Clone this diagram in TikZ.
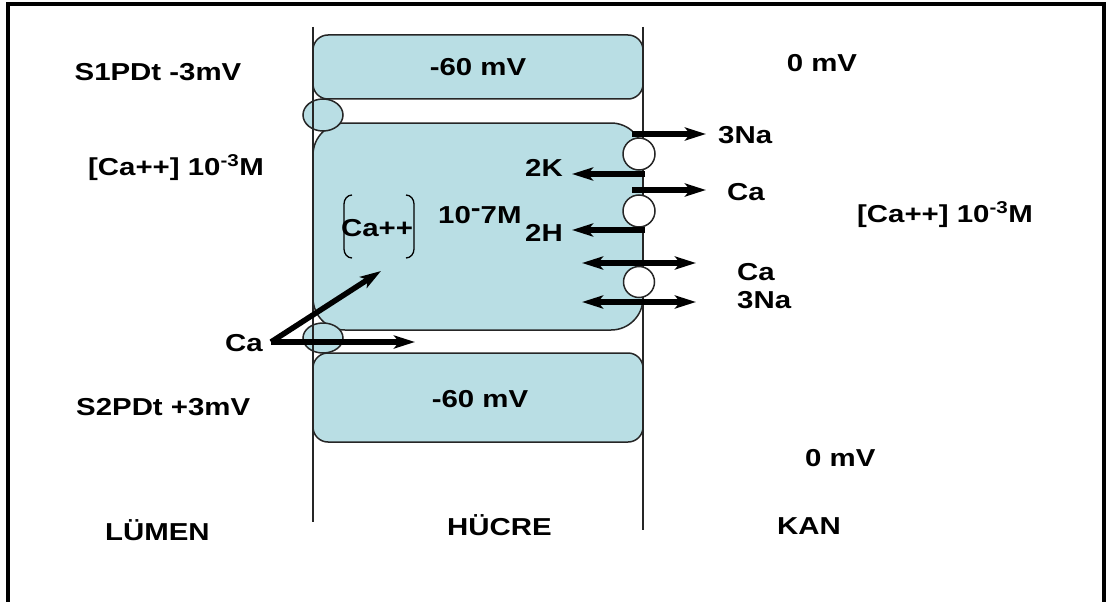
\documentclass[tikz,border=0pt]{standalone}
\usepackage{fontspec}
\setmainfont{Liberation Sans}[FakeStretch=1.2]
\usetikzlibrary{arrows.meta}
\definecolor{cellblue}{RGB}{185,222,228}
\begin{document}
\begin{tikzpicture}[x=1pt,y=-1pt,
  lbl/.style={font=\fontsize{24.5}{28}\selectfont\bfseries, inner sep=0pt},
  cellbox/.style={draw=black!85, line width=1.5pt, fill=cellblue},
  memline/.style={draw=black!85, line width=1.5pt},
  flux/.style={line width=5.5pt, -{Stealth[length=21pt,width=13pt,inset=5pt]}},
  bflux/.style={line width=5.5pt, {Stealth[length=21pt,width=13pt,inset=5pt]}-{Stealth[length=21pt,width=13pt,inset=5pt]}},
  pump/.style={draw=black!85, line width=1.5pt, fill=white},
  junc/.style={draw=black!85, line width=1.5pt, fill=cellblue}]
\useasboundingbox (0,0) rectangle (1109,602);
\fill[white] (0,0) rectangle (1109,602);
% outer frame
\draw[line width=3.5pt] (8,4) rectangle (1104,612);
% cells
\draw[cellbox, rounded corners=15pt] (313,35) rectangle (643,99);
\draw[cellbox, rounded corners=32pt] (313,123) rectangle (643,330);
\draw[cellbox, rounded corners=15pt] (313,353) rectangle (643,442);
% tight junctions
\draw[junc] (323,115) ellipse [x radius=20, y radius=16];
\draw[junc] (323,338) ellipse [x radius=20, y radius=15];
% membrane lines
\coordinate (lt) at (313,27); \coordinate (lb) at (313,522);
\coordinate (rt) at (643,27); \coordinate (rb) at (643,530);
\draw[memline] (lt) -- (lb);
\draw[memline] (rt) -- (rb);
% pumps on basolateral membrane
\draw[pump] (639,154) circle [radius=16];
\draw[pump] (639,211) circle [radius=16];
\draw[pump] (639,282) circle [radius=15.5];
% labels
\node[lbl] (s1) at (158,72) {S1PDt -3mV};
\node[lbl] (v1) at (478,67) {-60 mV};
\node[lbl] (z1) at (822,63) {0 mV};
\node[lbl] (caL) at (176,168) {[Ca++] 10\textsuperscript{-3}M};
\node[lbl, anchor=west] (na1) at (718,135) {3Na};
\node[lbl, anchor=east] (k2) at (563,168) {2K};
\node[lbl, anchor=west] (ca1) at (727,192) {Ca};
\node[lbl] (cai) at (377,228) {Ca++};
\node[lbl, anchor=west] (conc) at (438,215) {10\raisebox{0.28em}{-}7M};
\node[lbl, anchor=east] (h2) at (563,233) {2H};
\node[lbl, anchor=west] (caR) at (857,215) {[Ca++] 10\textsuperscript{-3}M};
\node[lbl, anchor=west] (ca2) at (737,272) {Ca};
\node[lbl, anchor=west] (na2) at (737,300) {3Na};
\node[lbl, anchor=east] (caLum) at (263,343) {Ca};
\node[lbl, anchor=west] (s2) at (76,407) {S2PDt +3mV};
\node[lbl] (v2) at (480,399) {-60 mV};
\node[lbl, anchor=west] (z2) at (805,458) {0 mV};
\node[lbl, anchor=west] (lum) at (105,530) {LÜMEN};
\node[lbl, anchor=west] (huc) at (447,525) {HÜCRE};
\node[lbl, anchor=west] (kan) at (777,526) {KAN};
% bracket around intracellular Ca++
\draw[line width=1.3pt] (352,195) to[out=180,in=90] (344,204) -- (344,249) to[out=-90,in=180] (352,258);
\draw[line width=1.3pt] (406,195) to[out=0,in=90] (414,204) -- (414,249) to[out=-90,in=0] (406,258);
% fluxes on basolateral side
\coordinate (a1s) at (632,134); \coordinate (a1e) at (706,134);
\coordinate (a2s) at (645,174); \coordinate (a2e) at (572,174);
\coordinate (a3s) at (632,190); \coordinate (a3e) at (706,190);
\coordinate (a4s) at (645,230); \coordinate (a4e) at (572,230);
\coordinate (b1s) at (582,263); \coordinate (b1e) at (696,263);
\coordinate (b2s) at (582,302); \coordinate (b2e) at (696,302);
\draw[flux] (a1s) -- (a1e);
\draw[flux] (a2s) -- (a2e);
\draw[flux] (a3s) -- (a3e);
\draw[flux] (a4s) -- (a4e);
\draw[bflux] (b1s) -- (b1e);
\draw[bflux] (b2s) -- (b2e);
% luminal Ca entry
\coordinate (o) at (271,342);
\coordinate (cup) at (381,271);
\coordinate (cpar) at (415,342);
\draw[flux] (o) -- (cup);
\draw[flux] (o) -- (cpar);
\end{tikzpicture}
\end{document}
